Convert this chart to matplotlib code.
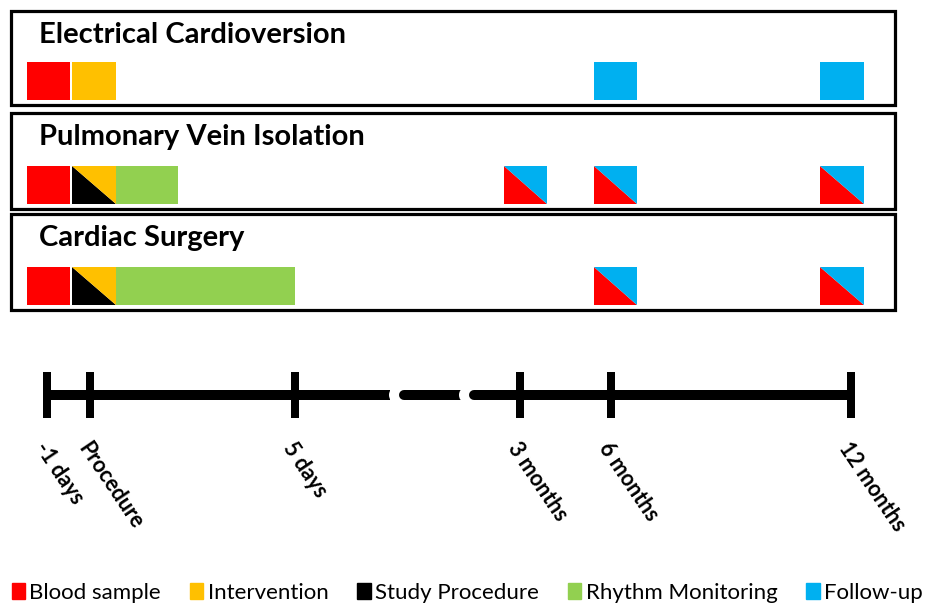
import matplotlib
matplotlib.use("Agg")
import matplotlib.pyplot as plt
from matplotlib.patches import Rectangle, Polygon, Ellipse

plt.rcParams['font.family'] = ['Lato', 'DejaVu Sans']

# colours of the event kinds
colors = {
    "Blood sample": "#FF0000",
    "Intervention": "#FFC000",
    "Study Procedure": "#000000",
    "Rhythm Monitoring": "#92D050",
    "Follow-up": "#00B0F0",
}
legend_order = ["Blood sample", "Intervention", "Study Procedure", "Rhythm Monitoring", "Follow-up"]

# timeline (schematic, x in drawing units)
tick_labels = ["-1 days", "Procedure", "5 days", "3 months", "6 months", "12 months"]
tick_pos = [47, 90, 295, 520, 611, 851]
axis_breaks = [(390, 404), (460, 474)]

# study arms: name and list of (start, end, kinds) ; two kinds -> split square
arms = ["Electrical Cardioversion", "Pulmonary Vein Isolation", "Cardiac Surgery"]
arm_events = [
    [(27, 70, ["Blood sample"]), (72, 116, ["Intervention"]),
     (594, 637, ["Follow-up"]), (820, 864, ["Follow-up"])],
    [(27, 70, ["Blood sample"]), (72, 116, ["Study Procedure", "Intervention"]),
     (116, 178, ["Rhythm Monitoring"]),
     (504, 547, ["Blood sample", "Follow-up"]), (594, 637, ["Blood sample", "Follow-up"]),
     (820, 864, ["Blood sample", "Follow-up"])],
    [(27, 70, ["Blood sample"]), (72, 116, ["Study Procedure", "Intervention"]),
     (116, 295, ["Rhythm Monitoring"]),
     (594, 637, ["Blood sample", "Follow-up"]), (820, 864, ["Blood sample", "Follow-up"])],
]
arm_box_y = [(11, 105), (113, 209), (214, 310)]

fig = plt.figure(figsize=(9.25, 6.06), dpi=100)
ax = fig.add_axes([0, 0, 1, 1])
ax.set_xlim(0, 925)
ax.set_ylim(606, 0)
ax.axis("off")

px = 72 / fig.dpi  # points per pixel

for name, events, (y0, y1) in zip(arms, arm_events, arm_box_y):
    ax.add_patch(Rectangle((11, y0), 884, y1 - y0, fill=False, edgecolor="black", lw=3.2 * px))
    ax.text(39, y0 + 24, name, fontsize=21, fontweight="bold", va="center", ha="left")
    top, bot = y1 - 43, y1 - 5
    for x0, x1, kinds in events:
        if len(kinds) == 1:
            ax.add_patch(Rectangle((x0, top), x1 - x0, bot - top, color=colors[kinds[0]], lw=0))
        else:
            # lower-left triangle first kind, upper-right second kind
            ax.add_patch(Polygon([(x0, top), (x0, bot), (x1, bot)], closed=True,
                                 color=colors[kinds[0]], lw=0))
            ax.add_patch(Polygon([(x0, top), (x1, top), (x1, bot)], closed=True,
                                 color=colors[kinds[1]], lw=0))

# timeline axis line with breaks
ty = 395
lw_line = 10 * px
starts = [tick_pos[0]] + [b[1] for b in axis_breaks]
ends = [b[0] for b in axis_breaks] + [tick_pos[-1] - 4]
for i, (s, e) in enumerate(zip(starts, ends)):
    ax.plot([s, e], [ty, ty], color="black", lw=lw_line,
            solid_capstyle="butt" if i == 0 else "round")
for b0, b1 in axis_breaks:
    ax.add_patch(Ellipse((b0 + 3, ty), 8, 12, color="white", lw=0, zorder=3))

for x, lab in zip(tick_pos, tick_labels):
    ax.plot([x, x], [372, 418], color="black", lw=8 * px, solid_capstyle="butt", zorder=4)
    ax.text(x + 1, 438, lab, fontsize=15.5, fontweight="bold", rotation=-56,
            rotation_mode="anchor", ha="left", va="top")

handles = [Rectangle((0, 0), 1, 1, color=colors[k]) for k in legend_order]
ax.legend(handles, legend_order, loc="lower center", bbox_to_anchor=(0.505, -0.013), ncol=5,
          frameon=False, fontsize=16, handlelength=0.6, handleheight=0.75,
          handletextpad=0.2, columnspacing=1.3, borderaxespad=0.1)

fig.savefig("out.png", dpi=100)
